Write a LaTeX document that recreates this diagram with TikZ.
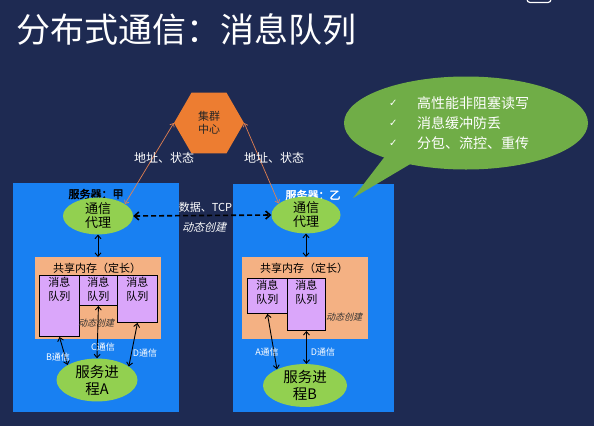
\documentclass[tikz,border=0pt]{standalone}
\usepackage{fontspec}
\setmainfont{Noto Sans CJK SC}
\newfontfamily\cjkit{Noto Sans CJK SC}[FakeSlant=0.25]
\newfontfamily\cjkbf{Noto Sans CJK SC}[FakeBold=2.5]
\newfontfamily\symf{DejaVu Sans}
\usetikzlibrary{shapes.geometric,arrows.meta}
\definecolor{navy}{RGB}{30,42,82}
\definecolor{serverblue}{RGB}{24,128,242}
\definecolor{lightgreen}{RGB}{146,208,80}
\definecolor{bubblegreen}{RGB}{112,173,71}
\definecolor{hexorange}{RGB}{237,125,49}
\definecolor{peach}{RGB}{244,177,131}
\definecolor{qpurple}{RGB}{218,166,250}
\definecolor{linkorange}{RGB}{226,128,80}
\tikzset{
  serverbox/.style={fill=serverblue, draw=none, anchor=north west, inner sep=0pt},
  shmbox/.style={fill=peach, draw=none, anchor=north west, inner sep=0pt},
  qbox/.style={draw=black, line width=0.9pt, fill=qpurple, anchor=north west, inner sep=0pt},
  qtext/.style={anchor=north, inner sep=0pt, align=center, text=black, font=\fontsize{11}{14}\selectfont},
  ellip/.style={ellipse, fill=lightgreen, draw=none, inner sep=0pt, align=center, text=black},
  dbl/.style={{Straight Barb[length=3.5pt,width=6pt]}-{Straight Barb[length=3.5pt,width=6pt]}, line width=0.9pt, black},
  orangelink/.style={{Straight Barb[length=3pt,width=5pt]}-{Straight Barb[length=3pt,width=5pt]}, line width=0.7pt, linkorange},
  wlbl/.style={text=white, inner sep=0pt, font=\fontsize{9}{9}\selectfont},
  itlbl/.style={inner sep=0pt, font=\cjkit\fontsize{9}{9}\selectfont},
}
\begin{document}
\begin{tikzpicture}[x=1pt,y=-1pt]
\useasboundingbox (0,0) rectangle (594,426);
\fill[navy] (0,0) rectangle (594,426);
% logo fragment
\draw[white, line width=1.2pt, rounded corners=3pt] (527,-6) rectangle (551,2.5);
% title
\node[anchor=west, inner sep=0pt, text=white, font=\fontsize{34}{34}\selectfont] (title) at (16,29) {分布式通信：消息队列};

% server boxes
\node[serverbox, minimum width=166pt, minimum height=229pt] (srvA) at (13,183) {};
\node[serverbox, minimum width=161pt, minimum height=228pt] (srvB) at (233,184) {};
\node[inner sep=0pt, text=black, font=\cjkbf\fontsize{11}{11}\selectfont] (srvAlbl) at (96,194) {服务器：甲};
\node[inner sep=0pt, text=white, font=\cjkbf\fontsize{11}{11}\selectfont] (srvBlbl) at (313,195) {服务器：乙};

% hexagon
\node[regular polygon, regular polygon sides=6, minimum size=70pt, inner sep=0pt, fill=hexorange, draw=none, align=center, text=black!85, font=\fontsize{11}{13}\selectfont] (hub) at (209,123) {集群\\中心};

% communication agents
\node[ellip, minimum width=70pt, minimum height=32pt, font=\fontsize{13}{14}\selectfont] (commA) at (98,216) {通信\\代理};
\node[ellip, minimum width=69pt, minimum height=32pt, font=\fontsize{13}{14}\selectfont] (commB) at (306,215) {通信\\代理};

% shared memory
\node[shmbox, minimum width=126pt, minimum height=82pt] (shmA) at (35,257) {};
\node[shmbox, minimum width=126pt, minimum height=82pt] (shmB) at (242,257) {};
\node[inner sep=0pt, text=black, font=\fontsize{11}{11}\selectfont] (shmAlbl) at (97,268) {共享内存（定长）};
\node[inner sep=0pt, text=black, font=\fontsize{11}{11}\selectfont] (shmBlbl) at (304,268) {共享内存（定长）};

% queues A
\node[qbox, minimum width=40pt, minimum height=61pt] (qa1) at (39,275) {};
\node[qbox, minimum width=38pt, minimum height=30pt] (qa2) at (79,275) {};
\node[qbox, minimum width=40pt, minimum height=47pt] (qa3) at (117,275) {};
\node[qtext] (qa1t) at ([yshift=-2pt]qa1.north) {消息\\队列};
\node[qtext] (qa2t) at ([yshift=-2pt]qa2.north) {消息\\队列};
\node[qtext] (qa3t) at ([yshift=-2pt]qa3.north) {消息\\队列};
\node[itlbl, text=black!80] (dynA) at (96,323) {动态创建};

% queues B
\node[qbox, minimum width=40pt, minimum height=35pt] (qb1) at (247,278) {};
\node[qbox, minimum width=38pt, minimum height=52pt] (qb2) at (287,278) {};
\node[qtext] (qb1t) at ([yshift=-2pt]qb1.north) {消息\\队列};
\node[qtext] (qb2t) at ([yshift=-2pt]qb2.north) {消息\\队列};
\node[itlbl, text=black!80] (dynB) at (344,317) {动态创建};

% service processes
\node[ellip, minimum width=81pt, minimum height=38pt, font=\fontsize{14.5}{17}\selectfont] (procA) at (97,380) {服务进\\程A};
\node[ellip, minimum width=84pt, minimum height=35pt, font=\fontsize{14.5}{17}\selectfont] (procB) at (305,385.5) {服务进\\程B};

% links agent <-> shared memory
\draw[dbl] (commA.south) -- (commA.south |- shmA.north);
\draw[dbl] (commB.south) -- (commB.south |- shmB.north);

% queue <-> process links A
\draw[dbl] (qa1.south) -- (procA.153);
\draw[dbl] (qa2.south) -- (procA.north);
\draw[dbl] (qa3.south) -- (procA.23);
\node[wlbl] (bA) at (58,357) {B通信};
\node[wlbl] (cA) at (103,347) {C通信};
\node[wlbl] (dA) at (145,353) {D通信};

% queue <-> process links B
\draw[dbl] (qb1.south) -- (procB.150);
\draw[dbl] (qb2.south) -- (qb2.south |- procB.north);
\node[wlbl] (aB) at (267,352) {A通信};
\node[wlbl] (dB) at (323,352) {D通信};

% dashed TCP link
\draw[{Straight Barb[length=4.5pt,width=8pt]}-{Straight Barb[length=4.5pt,width=8pt]}, line width=1.6pt, dash pattern=on 5pt off 3pt, black] (commA.east) -- (commB.west);
\node[inner sep=0pt, text=white, font=\fontsize{11}{11}\selectfont] (tcp) at (205.5,207) {数据、TCP};
\node[itlbl, text=white, font=\cjkit\fontsize{11}{11}\selectfont] (dyn) at (204,227) {动态创建};

% hub links
\draw[orangelink] (commA.24) -- (hub.west);
\draw[orangelink] (hub.east) -- (commB.157);
\node[inner sep=0pt, text=white, font=\fontsize{12}{12}\selectfont] (addrL) at (164,158) {地址、状态};
\node[inner sep=0pt, text=white, font=\fontsize{12}{12}\selectfont] (addrR) at (274,158) {地址、状态};

% callout bubble
\fill[bubblegreen] (386,155) -- (353,198) -- (412,163) -- cycle;
\node[ellipse, fill=bubblegreen, draw=none, minimum width=244pt, minimum height=93pt, inner sep=0pt] (bubble) at (466,123) {};
\node[anchor=west, inner sep=0pt, text=white, font=\symf\fontsize{10}{10}\selectfont] (ck1) at (389,103) {✓};
\node[anchor=west, inner sep=0pt, text=white, font=\symf\fontsize{10}{10}\selectfont] (ck2) at (389,123) {✓};
\node[anchor=west, inner sep=0pt, text=white, font=\symf\fontsize{10}{10}\selectfont] (ck3) at (389,143) {✓};
\node[anchor=west, inner sep=0pt, text=white, font=\fontsize{14}{14}\selectfont] (b1) at (417,103) {高性能非阻塞读写};
\node[anchor=west, inner sep=0pt, text=white, font=\fontsize{14}{14}\selectfont] (b2) at (417,123) {消息缓冲防丢};
\node[anchor=west, inner sep=0pt, text=white, font=\fontsize{14}{14}\selectfont] (b3) at (417,143) {分包、流控、重传};
\end{tikzpicture}
\end{document}
